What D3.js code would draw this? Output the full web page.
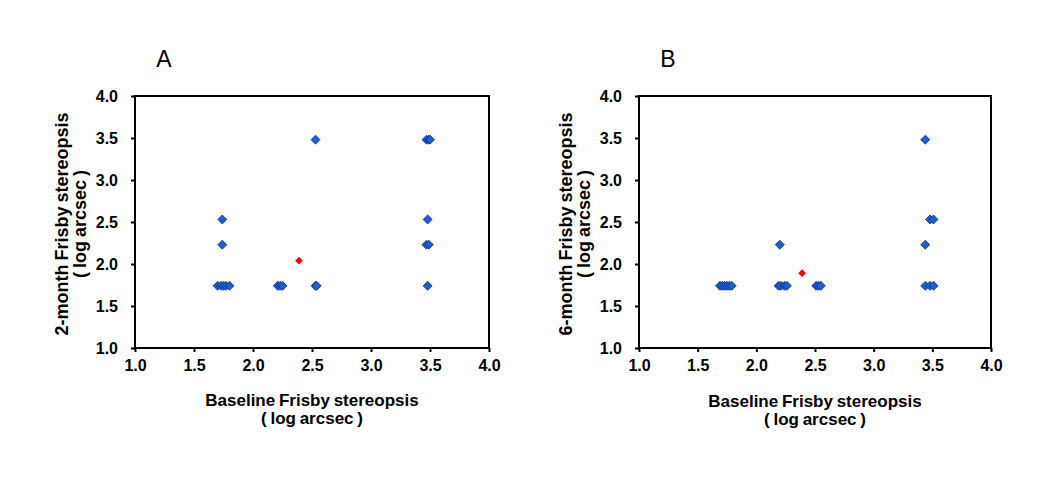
<!DOCTYPE html>
<html lang="en">
  <head>
    <meta charset="utf-8">
    <title>Frisby stereopsis</title>
    <script src="https://d3js.org/d3.v7.min.js"></script>
    <style>
      body { margin: 0; background: #fff; }
      svg { font-family: "Liberation Sans", Arial, sans-serif; }
      .tick text { font-size: 16px; font-weight: bold; fill: #000; }
      .tick line { stroke: #000; stroke-width: 2px; }
      .axis path { display: none; }
      .frame { fill: none; stroke: #000; stroke-width: 2px; }
      .lbl { font-size: 17px; font-weight: bold; fill: #000; word-spacing: -1px; }
      .ylbl { font-size: 18px; }
      .title { font-size: 23px; fill: #000; }
      .pt { fill: #1f5fc8; stroke: #0a2f9f; stroke-width: 0.8px; }
      .mean { fill: #ff0000; }
    </style>
  </head>
  <body>
    <svg id="chart" width="1047" height="477"></svg>
    <script>
      // tick values shared by both panels
      const ticks = [1.0, 1.5, 2.0, 2.5, 3.0, 3.5, 4.0];

      // panel A: baseline vs 2-month
      const aBaseline = [1.70, 1.73, 1.75, 1.77, 1.80, 1.74, 1.74,
                         2.21, 2.23, 2.25, 2.53, 2.54, 2.53,
                         3.47, 3.49, 3.50, 3.48, 3.47, 3.49, 3.48];
      const aFollow   = [1.74, 1.74, 1.74, 1.74, 1.74, 2.23, 2.53,
                         1.74, 1.74, 1.74, 1.74, 1.74, 3.48,
                         3.48, 3.48, 3.48, 2.53, 2.23, 2.23, 1.74];
      const aMean = [2.39, 2.04];

      // panel B: baseline vs 6-month
      const bBaseline = [1.69, 1.71, 1.73, 1.75, 1.77, 1.79,
                         2.19, 2.21, 2.24, 2.26, 2.20,
                         2.51, 2.53, 2.55,
                         3.44, 3.48, 3.51, 3.44, 3.48, 3.51, 3.44];
      const bFollow   = [1.74, 1.74, 1.74, 1.74, 1.74, 1.74,
                         1.74, 1.74, 1.74, 1.74, 2.23,
                         1.74, 1.74, 1.74,
                         1.74, 1.74, 1.74, 2.23, 2.53, 2.53, 3.48];
      const bMean = [2.39, 1.89];

      const svg = d3.select('#chart');
      const diamond = d3.symbol().type(d3.symbolSquare);

      function drawPanel(opt) {
        const x = d3.scaleLinear().domain([1, 4]).range([opt.left, opt.right]);
        const y = d3.scaleLinear().domain([1, 4]).range([opt.bottom, opt.top]);
        const g = svg.append('g');

        g.append('g')
          .attr('class', 'axis')
          .attr('transform', 'translate(0,' + opt.bottom + ')')
          .call(d3.axisBottom(x).tickValues(ticks).tickFormat(d3.format('.1f'))
            .tickSize(4).tickPadding(8));
        g.append('g')
          .attr('class', 'axis')
          .attr('transform', 'translate(' + opt.left + ',0)')
          .call(d3.axisLeft(y).tickValues(ticks).tickFormat(d3.format('.1f'))
            .tickSize(4).tickPadding(13));

        g.append('rect')
          .attr('class', 'frame')
          .attr('x', opt.left).attr('y', opt.top)
          .attr('width', opt.right - opt.left)
          .attr('height', opt.bottom - opt.top);

        const pts = opt.xs.map(function(d, i) { return [d, opt.ys[i]]; });
        g.selectAll('path.pt')
          .data(pts)
          .join('path')
          .attr('class', 'pt')
          .attr('d', diamond.size(40))
          .attr('transform', function(d) {
            return 'translate(' + x(d[0]) + ',' + y(d[1]) + ') rotate(45)';
          });

        g.append('path')
          .attr('class', 'mean')
          .attr('d', diamond.size(30)())
          .attr('transform', 'translate(' + x(opt.mean[0]) + ',' + y(opt.mean[1]) + ') rotate(45)');

        const cx = (opt.left + opt.right) / 2;
        g.append('text').attr('class', 'lbl').attr('text-anchor', 'middle')
          .attr('x', cx).attr('y', opt.bottom + 58 + opt.shift)
          .text('Baseline Frisby stereopsis');
        g.append('text').attr('class', 'lbl').attr('text-anchor', 'middle')
          .attr('x', cx).attr('y', opt.bottom + 76 + opt.shift)
          .text('( log arcsec )');

        const cy = (opt.top + opt.bottom) / 2 + 2;
        g.append('text').attr('class', 'lbl ylbl').attr('text-anchor', 'middle')
          .attr('transform', 'translate(' + (opt.left - 67) + ',' + cy + ') rotate(-90)')
          .text(opt.yLabel);
        g.append('text').attr('class', 'lbl ylbl').attr('text-anchor', 'middle')
          .attr('transform', 'translate(' + (opt.left - 49) + ',' + cy + ') rotate(-90)')
          .text('( log arcsec )');

        g.append('text').attr('class', 'title').attr('text-anchor', 'middle')
          .attr('x', opt.left + 29).attr('y', 67)
          .text(opt.title);
      }

      drawPanel({ left: 135, right: 489, top: 96, bottom: 348, xs: aBaseline, ys: aFollow,
                  mean: aMean, yLabel: '2-month Frisby stereopsis', title: 'A', shift: 0 });
      drawPanel({ left: 639, right: 991, top: 96, bottom: 348, xs: bBaseline, ys: bFollow,
                  mean: bMean, yLabel: '6-month Frisby stereopsis', title: 'B', shift: 1 });
    </script>
  </body>
</html>
